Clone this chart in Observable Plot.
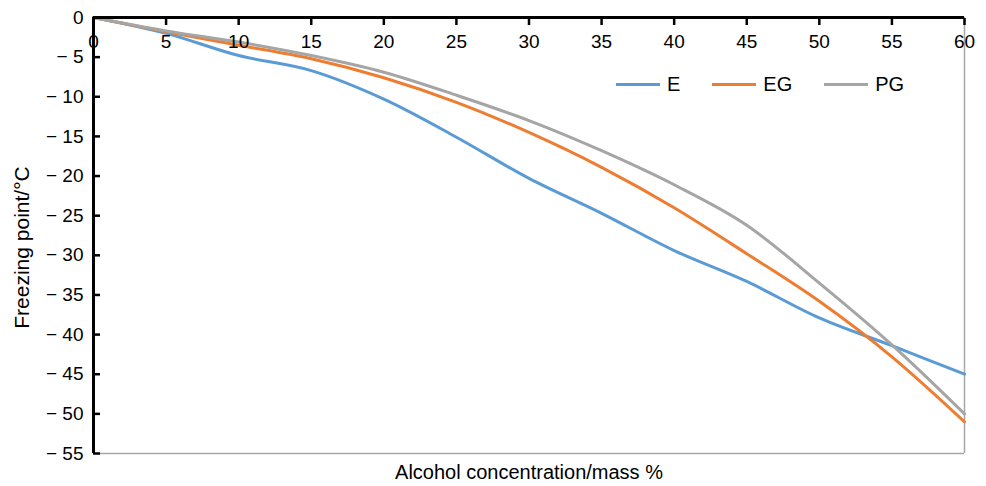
<!DOCTYPE html>
<html>
<head>
<meta charset="utf-8">
<script src="https://cdn.jsdelivr.net/npm/d3@7"></script>
<script src="https://cdn.jsdelivr.net/npm/@observablehq/plot@0.6"></script>
<style>
  html, body { margin: 0; padding: 0; background: #fff; }
  #wrap { position: relative; width: 986px; height: 486px; font-family: "Liberation Sans", Arial, Helvetica, sans-serif; }
  #legend { position: absolute; left: 616px; top: 73px; display: flex; align-items: center; font-size: 20px; color: #000; }
  .item { display: flex; align-items: center; margin-right: 32px; }
  .sw { width: 44px; height: 3px; margin-right: 7px; }
</style>
</head>
<body>
<div id="wrap"></div>
<script>
const concentration = [0, 5, 10, 15, 20, 25, 30, 35, 40, 45, 50, 55, 60];
const E  = [0, -2.0, -4.8, -6.7, -10.3, -15.1, -20.3, -24.7, -29.4, -33.3, -37.9, -41.4, -45.0];
const EG = [0, -1.8, -3.5, -5.2, -7.6, -10.7, -14.5, -18.9, -24.0, -29.8, -35.8, -42.8, -51.0];
const PG = [0, -1.7, -3.1, -4.8, -6.9, -9.8, -13.0, -16.8, -21.1, -26.2, -33.5, -41.3, -50.0];
const seriesNames = ["E", "EG", "PG"];
const seriesColors = ["#5B9BD5", "#ED7D31", "#A5A5A5"];
const xTicks = [0, 5, 10, 15, 20, 25, 30, 35, 40, 45, 50, 55, 60];
const yTicks = [0, -5, -10, -15, -20, -25, -30, -35, -40, -45, -50, -55];
const xLabel = "Alcohol concentration/mass %";
const yLabel = "Freezing point/°C";

const seriesValues = [E, EG, PG];
const table = seriesNames.flatMap((name, i) =>
  concentration.map((c, j) => ({series: name, x: c, y: seriesValues[i][j]})));

const font = "Liberation Sans, Arial, Helvetica, sans-serif";

const chart = Plot.plot({
  width: 986,
  height: 486,
  marginLeft: 93,
  marginRight: 22,
  marginTop: 17,
  marginBottom: 33,
  style: {fontFamily: font, background: "#fff", color: "#000"},
  x: {domain: [0, 60]},
  y: {domain: [-55, 0]},
  color: {domain: seriesNames, range: seriesColors},
  marks: [
    Plot.ruleX([60], {stroke: "#a6a6a6", strokeWidth: 1.5}),
    Plot.ruleY([-55], {stroke: "#a6a6a6", strokeWidth: 1.5}),
    Plot.line(table, {x: "x", y: "y", z: "series", stroke: "series", strokeWidth: 3, curve: "cardinal", tension: 0}),
    Plot.ruleX([0], {stroke: "#000", strokeWidth: 3}),
    Plot.ruleY([0], {stroke: "#000", strokeWidth: 3}),
    Plot.axisX(xTicks, {anchor: "top", tickSize: -7, tickPadding: -23, strokeWidth: 2.5, fontSize: 19, label: null, tickFormat: d => String(d)}),
    Plot.axisY(yTicks, {anchor: "left", tickSize: -7, tickPadding: 17, strokeWidth: 2.5, fontSize: 19, label: null,
      tickFormat: d => d === 0 ? "0" : "\u2212 " + Math.abs(d)}),
    Plot.text([xLabel], {frameAnchor: "bottom", lineAnchor: "middle", textAnchor: "middle", dy: 19, fontSize: 20, fill: "#000"}),
    Plot.text([yLabel], {frameAnchor: "left", lineAnchor: "middle", textAnchor: "middle", dx: -71, dy: 12, rotate: -90, fontSize: 21, fill: "#000"})
  ]
});

const wrap = document.getElementById("wrap");
wrap.appendChild(chart);
const legend = document.createElement("div");
legend.id = "legend";
seriesNames.forEach((name, i) => {
  const item = document.createElement("div");
  item.className = "item";
  const sw = document.createElement("div");
  sw.className = "sw";
  sw.style.background = seriesColors[i];
  const t = document.createElement("span");
  t.textContent = name;
  item.appendChild(sw);
  item.appendChild(t);
  legend.appendChild(item);
});
wrap.appendChild(legend);
</script>
</body>
</html>
